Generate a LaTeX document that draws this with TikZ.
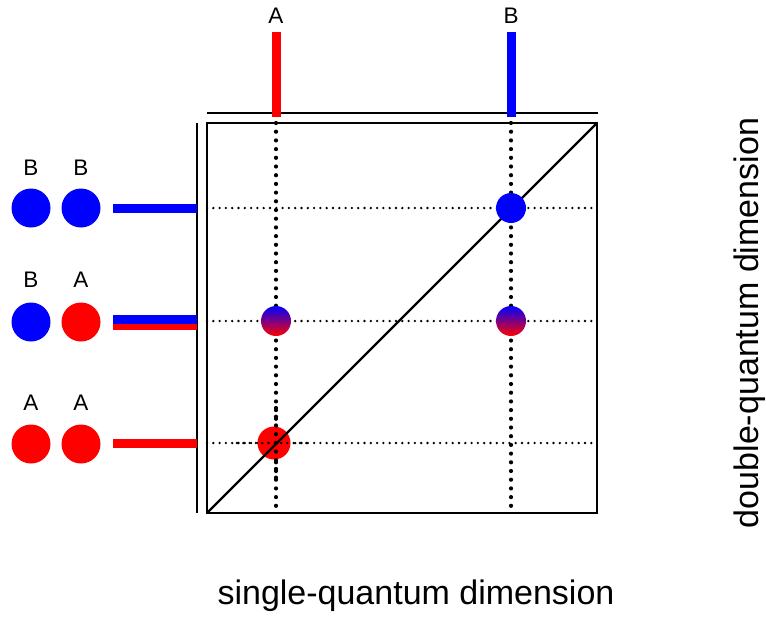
\documentclass[tikz,border=0pt]{standalone}
\usepackage{fontspec}
\setmainfont{Liberation Sans}
\begin{document}
\begin{tikzpicture}[x=1pt,y=-1pt,
  frame/.style={line width=2.2pt},
  bar/.style={line width=9pt},
  atom/.style={circle, inner sep=0pt, minimum size=39pt},
  peak/.style={circle, inner sep=0pt, minimum size=30pt},
  letter/.style={font=\fontsize{22.5}{22.5}\selectfont},
  axis/.style={font=\fontsize{34}{34}\selectfont},
  gridv/.style={line width=4.2pt, line cap=round, dash pattern=on 0pt off 8.7pt},
  gridh/.style={line width=2.6pt, line cap=round, dash pattern=on 0pt off 6.3pt}]
  \useasboundingbox (0,0) rectangle (766,619);
  % corners of the 2D spectrum
  \coordinate (SW) at (207,513);
  \coordinate (NE) at (597,123);
  % grid of correlations
  \draw[gridv] (276,123) -- (276,513);
  \draw[gridv] (511,123) -- (511,513);
  \draw[gridh] (207,208) -- (597,208);
  \draw[gridh] (207,321) -- (597,321);
  \draw[gridh] (207,443) -- (597,443);
  \node[peak, fill=red, minimum size=33pt] (AA) at (274,443) {};
  \draw[gridv] (276,408) -- (276,478);
  \draw[gridh] (237,443) -- (311,443);
  \draw[frame] (SW) rectangle (NE);
  \draw[frame] (SW) -- (NE);
  \node[peak, fill=blue] (BB) at (511,208) {};
  \shade[top color=blue, bottom color=red] (276,321) circle (15pt);
  \shade[top color=blue, bottom color=red] (511,321) circle (15pt);
  % single-quantum projection
  \draw[frame] (207,113) -- (598,113);
  \coordinate (topA) at (276,117);
  \coordinate (topB) at (511,117);
  \draw[bar, red] (topA) -- (276,32) node[letter, black, above=1pt] {A};
  \draw[bar, blue] (topB) -- (511,32) node[letter, black, above=1pt] {B};
  % double-quantum projection
  \draw[frame] (197,123) -- (197,513);
  \coordinate (endBB) at (197,208);
  \coordinate (endBA) at (197,321);
  \coordinate (endAA) at (197,443);
  \draw[bar, blue] (113,208) -- (endBB);
  \draw[bar, red] (113,325) -- (endBA |- 0,325);
  \draw[bar, blue] (113,319.5) -- (endBA |- 0,319.5);
  \draw[bar, red] (113,443) -- (endAA);
  % spin pairs
  \node[atom, fill=blue] (b1) at (31,208) {};
  \node[atom, fill=blue] (b2) at (81,208) {};
  \node[atom, fill=blue] (b3) at (31,322) {};
  \node[atom, fill=red] (a3) at (81,322) {};
  \node[atom, fill=red] (a1) at (31,444) {};
  \node[atom, fill=red] (a2) at (81,444) {};
  \node[letter] at (31,168) {B};
  \node[letter] at (81,168) {B};
  \node[letter] at (31,280) {B};
  \node[letter] at (81,280) {A};
  \node[letter] at (31,403) {A};
  \node[letter] at (81,403) {A};
  % axis titles
  \node[axis] at (416,596) {single-quantum dimension};
  \node[axis, rotate=90] at (750,323) {double-quantum dimension};
\end{tikzpicture}
\end{document}
